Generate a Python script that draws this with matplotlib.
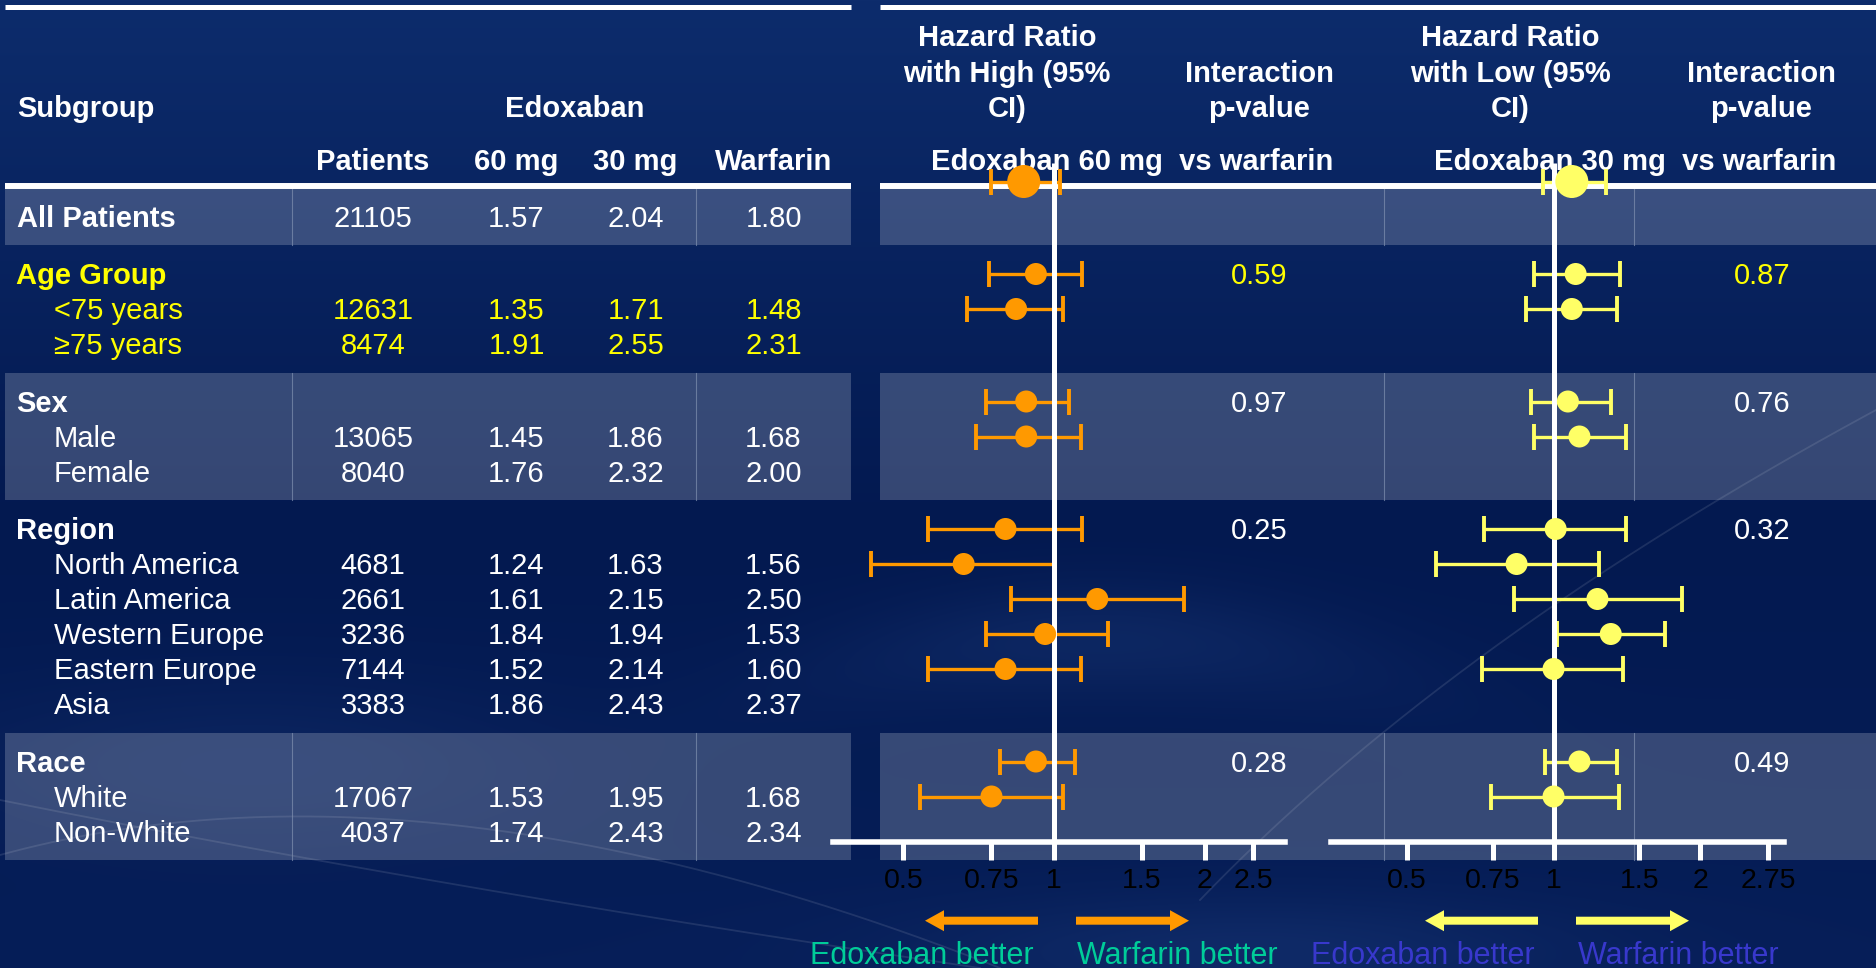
import numpy as np
import matplotlib
matplotlib.use("Agg")
import matplotlib.pyplot as plt
from matplotlib.patches import Rectangle, FancyArrow
from matplotlib.ticker import FixedLocator, FixedFormatter, NullLocator

plt.rcParams['font.family'] = ['Liberation Sans', 'DejaVu Sans']

# ---------------- data ----------------
subgroup_labels = ["All Patients", "<75 years", "≥75 years", "Male", "Female",
                   "North America", "Latin America", "Western Europe",
                   "Eastern Europe", "Asia", "White", "Non-White"]
patients = [21105, 12631, 8474, 13065, 8040, 4681, 2661, 3236, 7144, 3383, 17067, 4037]
rate_60mg = ["1.57", "1.35", "1.91", "1.45", "1.76", "1.24", "1.61", "1.84", "1.52", "1.86", "1.53", "1.74"]
rate_30mg = ["2.04", "1.71", "2.55", "1.86", "2.32", "1.63", "2.15", "1.94", "2.14", "2.43", "1.95", "2.43"]
rate_warfarin = ["1.80", "1.48", "2.31", "1.68", "2.00", "1.56", "2.50", "1.53", "1.60", "2.37", "1.68", "2.34"]

group_titles = ["Age Group", "Sex", "Region", "Race"]
group_sizes = [2, 2, 5, 2]
p_interaction_high = ["0.59", "0.97", "0.25", "0.28"]
p_interaction_low = ["0.87", "0.76", "0.32", "0.49"]

# Edoxaban 60 mg vs warfarin
hr_high = [0.87, 0.92, 0.84, 0.88, 0.88, 0.80, 0.66, 1.22, 0.96, 0.80, 0.92, 0.75]
hr_high_lo = [0.75, 0.74, 0.67, 0.73, 0.70, 0.56, 0.43, 0.82, 0.73, 0.56, 0.78, 0.54]
hr_high_hi = [1.03, 1.14, 1.04, 1.07, 1.13, 1.14, 1.00, 1.82, 1.28, 1.13, 1.10, 1.04]
# Edoxaban 30 mg vs warfarin
hr_low = [1.09, 1.11, 1.09, 1.07, 1.13, 1.01, 0.84, 1.23, 1.31, 1.00, 1.13, 1.00]
hr_low_lo = [0.95, 0.91, 0.88, 0.90, 0.91, 0.72, 0.575, 0.83, 1.015, 0.715, 0.96, 0.745]
hr_low_hi = [1.28, 1.37, 1.35, 1.31, 1.41, 1.41, 1.24, 1.83, 1.69, 1.39, 1.35, 1.36]

ticks_high = [0.5, 0.75, 1, 1.5, 2, 2.5]
tick_labels_high = ["0.5", "0.75", "1", "1.5", "2", "2.5"]
ticks_low = [0.5, 0.75, 1, 1.5, 2, 2.75]
tick_labels_low = ["0.5", "0.75", "1", "1.5", "2", "2.75"]

# ---------------- layout (pixel units) ----------------
W, H, DPI = 1876, 968, 100
FS = 21
ROW, GAP, HALF = 35.0, 57.5, 28.75
CAP = 10.4            # half cap-height, to place baselines from visual centres
NAVY_TOP = np.array([13, 44, 108]) / 255
NAVY_MID = np.array([3, 25, 80]) / 255
NAVY_BOT = np.array([6, 30, 88]) / 255
ORANGE = "#FF9900"
YELLOW_MARK = "#FFFF66"
YELLOW_TXT = "#FFFF00"

# row positions
y = 216.5
data_y = [y]
header_y = []
bands = [(y - HALF, y + HALF)]
for n in group_sizes:
    y += GAP
    header_y.append(y)
    top = y - HALF
    for _ in range(n):
        y += ROW
        data_y.append(y)
    bands.append((top, y + HALF))
data_y = np.array(data_y)
ci_y = data_y - ROW          # interval rows sit one line above their label rows

fig = plt.figure(figsize=(W / DPI, H / DPI), dpi=DPI)
base = fig.add_axes([0, 0, 1, 1])
base.set_xlim(0, W)
base.set_ylim(H, 0)
base.axis("off")

# background: navy gradient with soft template swooshes
yy, xx = np.mgrid[0:H, 0:W].astype(float)
t1 = np.clip(yy / 520, 0, 1)[..., None]
t2 = np.clip((yy - 520) / 448, 0, 1)[..., None]
bg = np.where(yy[..., None] < 520,
              NAVY_TOP * (1 - t1) + NAVY_MID * t1,
              NAVY_MID * (1 - t2) + NAVY_BOT * t2)
glow = (0.06 * np.exp(-((xx - 1100) / 280) ** 2 - ((yy - 640 - 0.0004 * (xx - 1100) ** 2) / 55) ** 2)
        + 0.06 * np.exp(-((xx - 1250) / 330) ** 2 - ((yy - 950) / 55) ** 2)
        + 0.04 * np.exp(-((xx - 250) / 300) ** 2 - ((yy - 760) / 80) ** 2))
bg = bg + glow[..., None] * np.array([0.6, 0.8, 1.0])
base.imshow(np.clip(bg, 0, 1), extent=(0, W, H, 0), aspect="auto", zorder=0)


def bezier(p0, p1, p2, n=200):
    s = np.linspace(0, 1, n)[:, None]
    pts = (1 - s) ** 2 * np.array(p0) + 2 * (1 - s) * s * np.array(p1) + s ** 2 * np.array(p2)
    return pts[:, 0], pts[:, 1]


for p0, p1, p2 in [((1200, 900), (1450, 640), (1876, 410)),
                   ((0, 855), (420, 740), (1000, 968)),
                   ((0, 800), (450, 890), (980, 968))]:
    bx, by = bezier(p0, p1, p2)
    base.plot(bx, by, color="white", alpha=0.10, lw=1.3, zorder=1)

# light bands for All / Sex / Race
for i in (0, 2, 4):
    top, bot = bands[i]
    for x0, x1 in ((5, 851), (880, W)):
        base.add_patch(Rectangle((x0, top), x1 - x0, bot - top, facecolor="white",
                                 alpha=0.2, edgecolor="none", zorder=2))
    for xd in (291.5, 695.5, 1383.6, 1634.4):
        base.plot([xd, xd], [top, bot], color="#8090B0", lw=0.8, alpha=0.7, zorder=2)

# header rules
for yl, lw in ((7.3, 3.6), (186, 4.3)):
    base.plot([5, 851], [yl, yl], color="white", lw=lw, solid_capstyle="butt", zorder=3)
    base.plot([880, W], [yl, yl], color="white", lw=lw, solid_capstyle="butt", zorder=3)


def txt(x, yc, s, ha="center", color="white", bold=False, size=FS):
    base.text(x, yc + CAP, s, ha=ha, va="baseline", color=color, fontsize=size,
              fontweight="bold" if bold else "normal", zorder=5)


# column headings
COL_X = [373, 516.5, 635.5, 773.5]
txt(17, 106.7, "Subgroup", ha="left", bold=True)
txt(575, 106.7, "Edoxaban", bold=True)
for cx, s in zip(COL_X, ["Patients", "60 mg", "30 mg", "Warfarin"]):
    txt(cx, 160, s, bold=True)

for cx, dose, word in ((1007, "60", "High"), (1510, "30", "Low")):
    txt(cx, 35.7, "Hazard Ratio", bold=True)
    txt(cx, 71.7, f"with {word} (95%", bold=True)
    txt(cx, 106.7, "CI)", bold=True)
for cx in (1259, 1761):
    txt(cx, 71.7, "Interaction", bold=True)
    txt(cx, 106.7, "p-value", bold=True)
txt(1132, 160, "Edoxaban 60 mg  vs warfarin", bold=True)
txt(1635, 160, "Edoxaban 30 mg  vs warfarin", bold=True)

# table body
txt(17, data_y[0], subgroup_labels[0], ha="left", bold=True)
k = 1
for g, (title, n) in enumerate(zip(group_titles, group_sizes)):
    col = YELLOW_TXT if title == "Age Group" else "white"
    txt(16, header_y[g], title, ha="left", bold=True, color=col)
    txt(1259, header_y[g], p_interaction_high[g], color=col)
    txt(1762, header_y[g], p_interaction_low[g], color=col)
    for _ in range(n):
        txt(53.5, data_y[k], subgroup_labels[k], ha="left", color=col)
        k += 1

row_colors = ["white"] + [YELLOW_TXT] * 2 + ["white"] * 9
for i, yc in enumerate(data_y):
    vals = [str(patients[i]), rate_60mg[i], rate_30mg[i], rate_warfarin[i]]
    for cx, s in zip(COL_X, vals):
        txt(cx, yc, s, color=row_colors[i])

# direction arrows and captions
AY = 920.7
for (tail_l, tip_l, tail_r, tip_r, col) in ((1038, 925, 1076, 1189, ORANGE),
                                            (1538, 1425, 1576, 1689, YELLOW_MARK)):
    for tail, tip in ((tail_l, tip_l), (tail_r, tip_r)):
        base.add_patch(FancyArrow(tail, AY, tip - tail, 0, width=8, head_width=21,
                                  head_length=19, length_includes_head=True,
                                  color=col, lw=0, zorder=5))
base.text(921.5, 964, "Edoxaban better", ha="center", va="baseline", fontsize=22, color="#00CC99", zorder=5)
base.text(1177.5, 964, "Warfarin better", ha="center", va="baseline", fontsize=22, color="#00CC99", zorder=5)
base.text(1422.5, 964, "Edoxaban better", ha="center", va="baseline", fontsize=22, color="#3838CC", zorder=5)
base.text(1678, 964, "Warfarin better", ha="center", va="baseline", fontsize=22, color="#3838CC", zorder=5)


# ---------------- forest panels ----------------
def forest(x0, x1, xlim, hr, lo, hi, color, ticks, labels):
    ax = fig.add_axes([x0 / W, 0, (x1 - x0) / W, 1])
    ax.set_xscale("log")
    ax.set_xlim(*xlim)
    ax.set_ylim(H, 0)
    ax.patch.set_visible(False)
    for s in ("top", "left", "right"):
        ax.spines[s].set_visible(False)
    sp = ax.spines["bottom"]
    sp.set_position(("data", 842))
    sp.set_color("white")
    sp.set_linewidth(4)
    ax.set_yticks([])
    ax.xaxis.set_major_locator(FixedLocator(ticks))
    ax.xaxis.set_major_formatter(FixedFormatter(labels))
    ax.xaxis.set_minor_locator(NullLocator())
    ax.tick_params(axis="x", which="major", direction="out", length=13, width=3.6,
                   color="white", labelcolor="black", labelsize=20.5, pad=6)
    hr, lo, hi = map(np.asarray, (hr, lo, hi))
    ax.errorbar(hr, ci_y, xerr=[hr - lo, hi - hr], fmt="none", ecolor=color,
                elinewidth=2.4, capsize=9.4, capthick=2.8, zorder=2)
    ax.vlines(1, 163, 842, color="white", lw=3.6, zorder=3)
    sizes = [565] + [251] * (len(hr) - 1)
    ax.scatter(hr, ci_y, s=sizes, color=color, linewidths=0, zorder=4)
    return ax


forest(833, 1285, (0.3618, 2.894), hr_high, hr_high_lo, hr_high_hi, ORANGE,
       ticks_high, tick_labels_high)
forest(1331, 1784, (0.350, 2.966), hr_low, hr_low_lo, hr_low_hi, YELLOW_MARK,
       ticks_low, tick_labels_low)

fig.savefig("out.png", dpi=DPI)
